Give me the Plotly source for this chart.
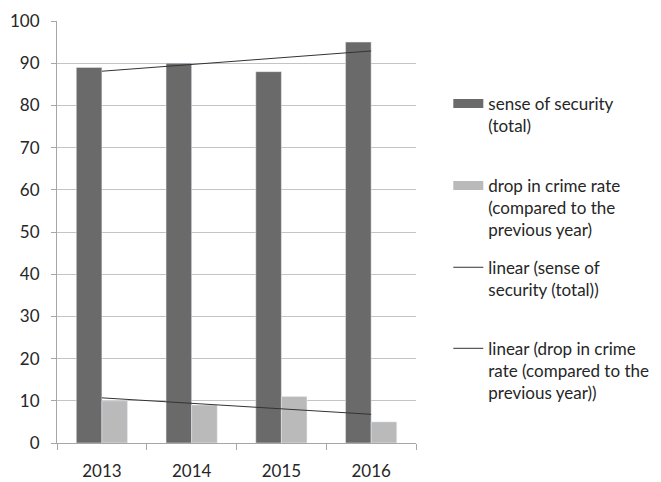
import numpy as np
import plotly.graph_objects as go

years = ["2013", "2014", "2015", "2016"]
security = [89, 90, 88, 95]
crime_drop = [10, 9, 11, 5]

name_sec = "sense of security<br>(total)"
name_crime = "drop in crime rate<br>(compared to the<br>previous year)"
name_lin_sec = "linear (sense of<br>security (total))"
name_lin_crime = "linear (drop in crime<br>rate (compared to the<br>previous year))"

dark = "#6a6a6a"
light = "#bababa"
font = dict(family="Lato, 'Open Sans', sans-serif", size=17, color="#262626")

xi = np.arange(len(years))
fit_sec = np.polyval(np.polyfit(xi, security, 1), xi)
fit_crime = np.polyval(np.polyfit(xi, crime_drop, 1), xi)

fig = go.Figure()
fig.add_trace(go.Bar(x=years, y=security, marker_color=dark, name=name_sec,
                     showlegend=False, legendgroup="a"))
fig.add_trace(go.Bar(x=years, y=crime_drop, marker_color=light, name=name_crime,
                     showlegend=False, legendgroup="b"))
fig.add_trace(go.Scatter(x=years, y=fit_sec, mode="lines", line=dict(color="#333333", width=1),
                         name=name_lin_sec, legend="legend3"))
fig.add_trace(go.Scatter(x=years, y=fit_crime, mode="lines", line=dict(color="#333333", width=1),
                         name=name_lin_crime, legend="legend4"))
# legend swatches for the bar series
fig.add_trace(go.Scatter(x=[None], y=[None], mode="lines", line=dict(color=dark, width=9),
                         name=name_sec, legendgroup="a", legend="legend"))
fig.add_trace(go.Scatter(x=[None], y=[None], mode="lines", line=dict(color=light, width=9),
                         name=name_crime, legendgroup="b", legend="legend2"))

leg = dict(x=1.09, xanchor="left", yanchor="top", valign="top",
           bgcolor="rgba(0,0,0,0)", font=font, itemwidth=30)

fig.update_layout(
    width=661, height=482,
    margin=dict(l=49, r=253, t=13, b=47, autoexpand=False),
    paper_bgcolor="white", plot_bgcolor="white",
    font=font,
    barmode="group", bargap=0.43, bargroupgap=0,
    xaxis=dict(type="category", showline=True, linecolor="#a6a6a6", linewidth=1,
               ticks="outside", tickson="boundaries", ticklen=6, tickcolor="#a6a6a6",
               showgrid=False, tickfont=font, automargin=False, ticklabelstandoff=13),
    yaxis=dict(range=[0, 100], dtick=10, showline=True, linecolor="#a6a6a6", linewidth=1,
               ticks="outside", ticklen=5, tickcolor="#a6a6a6",
               gridcolor="#c4c4c4", gridwidth=1, zeroline=False, tickfont=font,
               automargin=False, ticklabelstandoff=8),
    legend=dict(leg, y=0.846),
    legend2=dict(leg, y=0.652),
    legend3=dict(leg, y=0.458),
    legend4=dict(leg, y=0.266),
)

fig.write_html("out.html")
